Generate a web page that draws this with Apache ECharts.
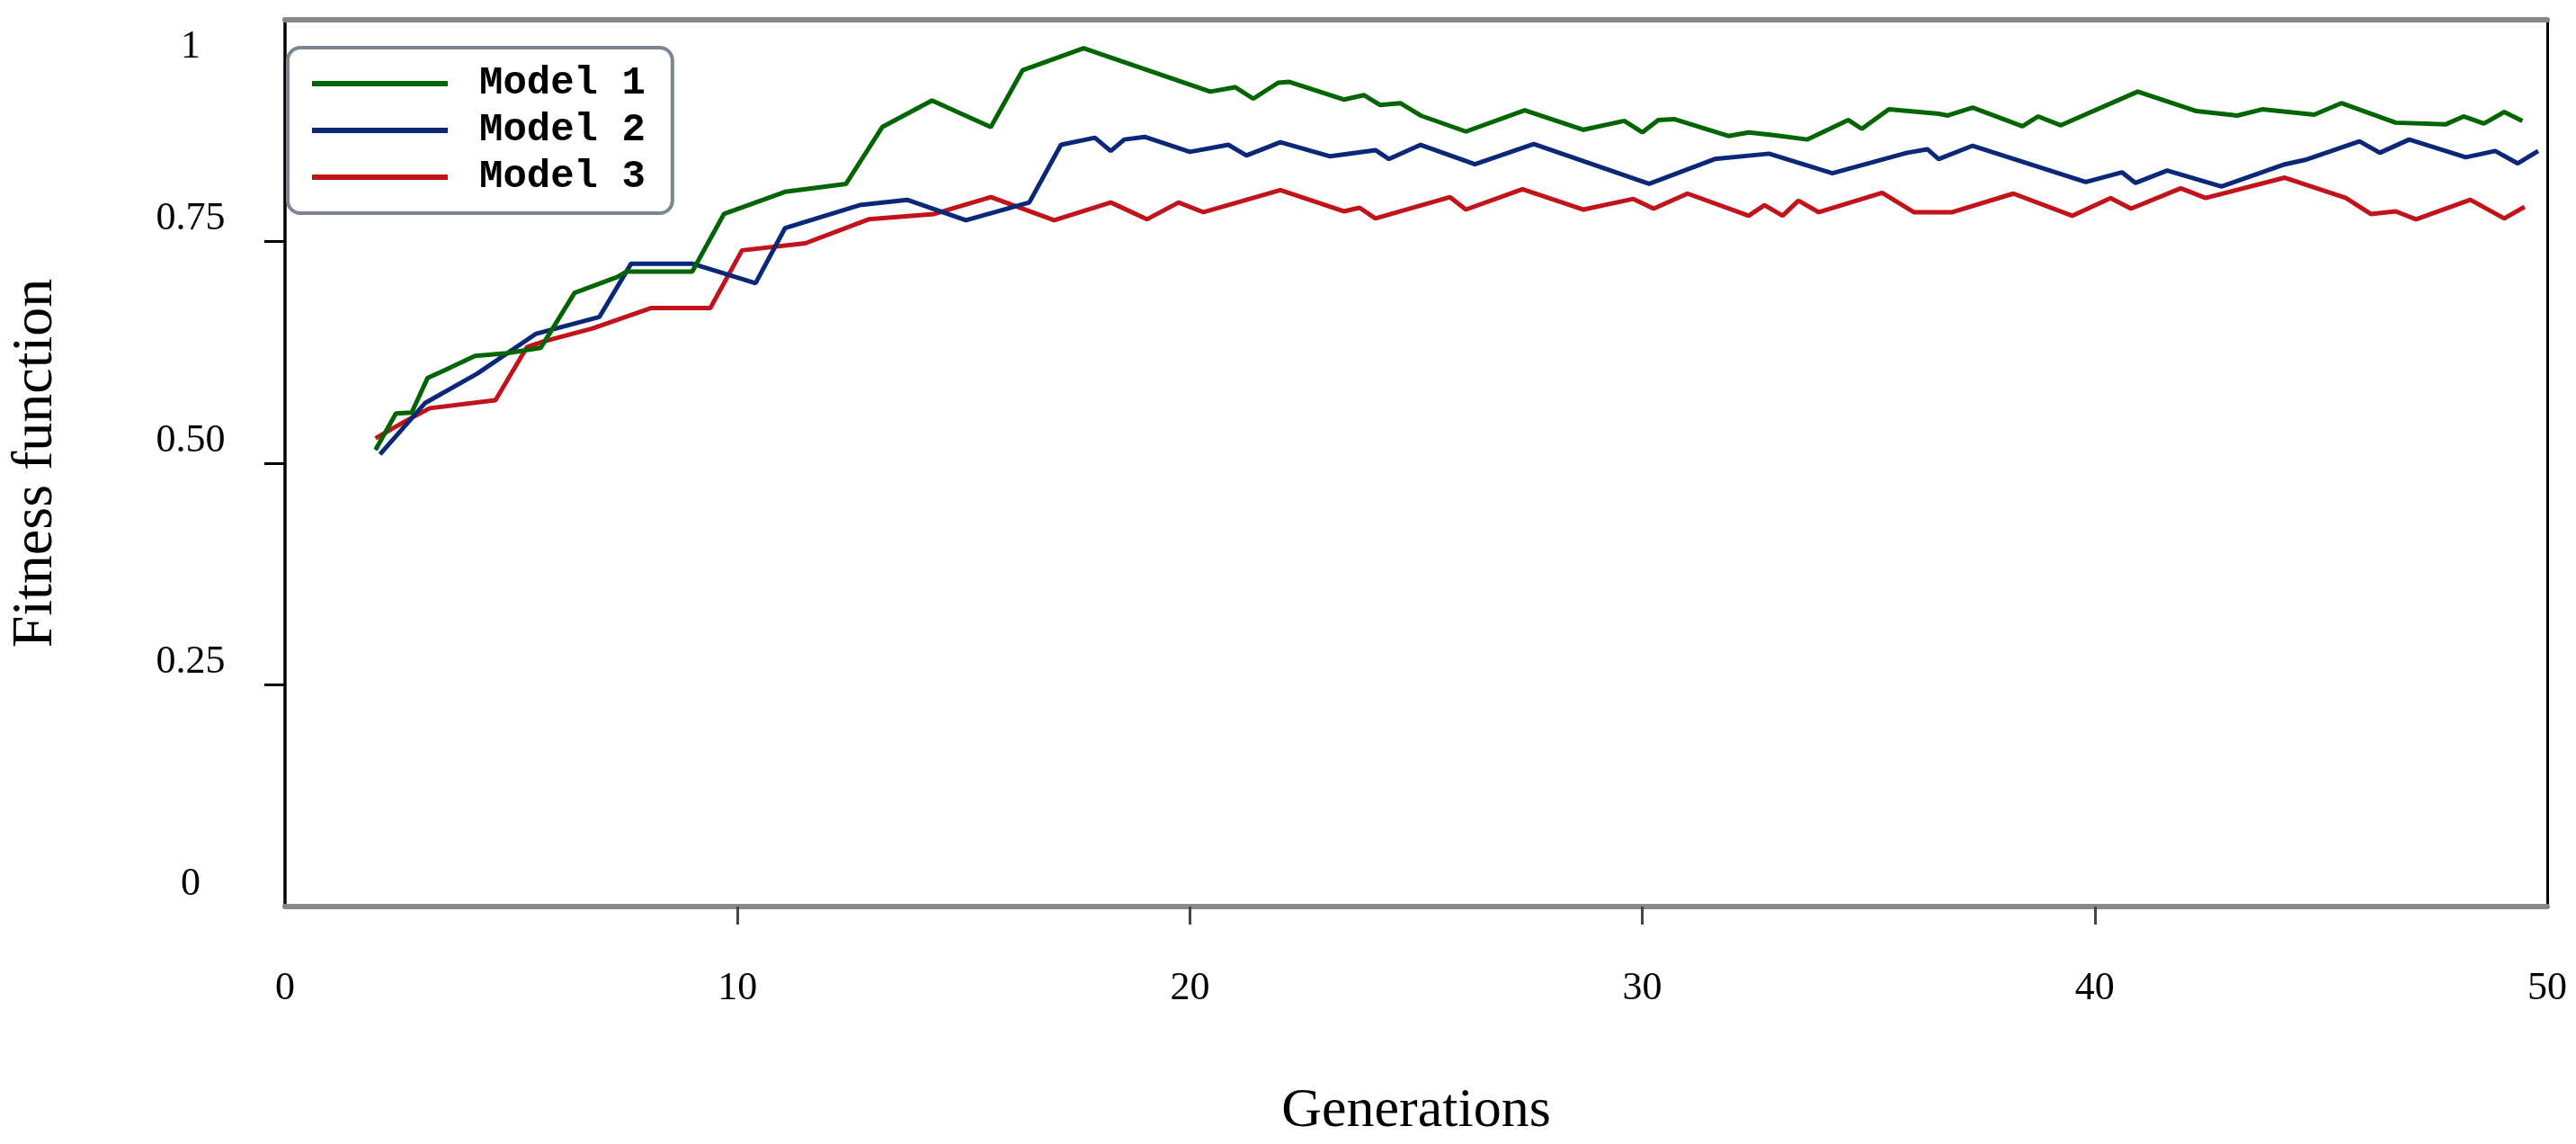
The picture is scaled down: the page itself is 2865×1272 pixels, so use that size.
<!DOCTYPE html>
<html>
<head>
<meta charset="utf-8">
<script src="https://cdn.jsdelivr.net/npm/echarts@6/dist/echarts.min.js"></script>
<style>
html,body{margin:0;padding:0;background:#fff;}
#chart{width:2865px;height:1272px;}
</style>
</head>
<body>
<div id="chart"></div>
<script>
// ---- data ----
const seriesNames = ['Model 1', 'Model 2', 'Model 3'];
const xTicks = [0, 10, 20, 30, 40, 50];
const yTicks = [0, 0.25, 0.5, 0.75, 1];

const m1X = [2.0, 2.45, 2.8, 3.15, 3.45, 4.2, 4.9, 5.65, 6.4, 7.35, 7.55, 9.0, 9.7, 11.05, 12.4, 13.2, 14.3, 15.6, 16.3, 17.65, 20.45, 21.0, 21.4, 21.95, 22.2, 23.4, 23.85, 24.2, 24.65, 25.1, 26.1, 27.4, 28.7, 29.6, 30.0, 30.35, 30.7, 31.9, 32.35, 32.9, 33.65, 34.55, 34.85, 35.45, 36.55, 36.75, 37.3, 38.4, 38.75, 39.25, 40.95, 42.25, 43.15, 43.7, 44.85, 45.45, 46.65, 47.75, 48.15, 48.6, 49.05, 49.45];
const m1Y = [0.515, 0.556, 0.557, 0.596, 0.603, 0.621, 0.624, 0.630, 0.692, 0.710, 0.716, 0.716, 0.781, 0.806, 0.815, 0.879, 0.909, 0.879, 0.943, 0.968, 0.919, 0.924, 0.911, 0.929, 0.930, 0.910, 0.915, 0.904, 0.906, 0.892, 0.874, 0.898, 0.876, 0.886, 0.873, 0.887, 0.888, 0.869, 0.873, 0.870, 0.865, 0.887, 0.877, 0.899, 0.894, 0.892, 0.901, 0.880, 0.891, 0.881, 0.919, 0.897, 0.892, 0.899, 0.893, 0.906, 0.884, 0.882, 0.891, 0.883, 0.896, 0.886];

const m2X = [2.1, 3.1, 4.25, 5.55, 6.95, 7.65, 9.0, 10.4, 11.05, 12.7, 13.75, 15.05, 16.45, 17.15, 17.9, 18.25, 18.55, 19.0, 20.0, 20.85, 21.25, 22.0, 23.1, 24.1, 24.4, 25.1, 26.3, 27.6, 30.15, 31.6, 32.8, 34.2, 35.85, 36.3, 36.55, 37.3, 39.8, 40.6, 40.9, 41.6, 42.8, 44.2, 44.65, 45.85, 46.3, 46.95, 48.2, 48.85, 49.35, 49.8];
const m2Y = [0.510, 0.568, 0.601, 0.646, 0.665, 0.725, 0.725, 0.703, 0.765, 0.791, 0.797, 0.774, 0.794, 0.859, 0.867, 0.852, 0.865, 0.868, 0.851, 0.859, 0.847, 0.862, 0.846, 0.853, 0.843, 0.859, 0.837, 0.860, 0.815, 0.843, 0.849, 0.827, 0.850, 0.854, 0.843, 0.858, 0.817, 0.828, 0.816, 0.830, 0.812, 0.837, 0.842, 0.863, 0.850, 0.865, 0.845, 0.852, 0.838, 0.852];

const m3X = [2.0, 2.65, 3.2, 4.65, 5.35, 5.7, 6.8, 8.1, 9.4, 10.1, 11.5, 12.9, 14.35, 15.6, 17.0, 18.25, 19.05, 19.75, 20.3, 22.0, 23.4, 23.75, 24.1, 25.75, 26.1, 27.35, 28.7, 29.8, 30.25, 31.0, 32.35, 32.7, 33.1, 33.45, 33.9, 35.3, 36.0, 36.85, 38.2, 39.5, 40.35, 40.8, 41.9, 42.45, 44.2, 45.55, 46.1, 46.65, 47.1, 48.3, 49.05, 49.5];
const m3Y = [0.528, 0.547, 0.562, 0.571, 0.631, 0.637, 0.652, 0.675, 0.675, 0.740, 0.748, 0.775, 0.781, 0.800, 0.774, 0.794, 0.775, 0.794, 0.783, 0.808, 0.784, 0.788, 0.776, 0.800, 0.786, 0.809, 0.786, 0.798, 0.787, 0.804, 0.779, 0.791, 0.779, 0.796, 0.783, 0.805, 0.783, 0.783, 0.804, 0.779, 0.799, 0.787, 0.810, 0.799, 0.822, 0.799, 0.781, 0.784, 0.775, 0.797, 0.776, 0.789];

const colors = ['#006400', '#0b2878', '#c2121a'];

function pairs(xs, ys) {
  const n = Math.min(xs.length, ys.length);
  const out = [];
  for (let i = 0; i < n; i++) out.push([xs[i], ys[i]]);
  return out;
}
const seriesData = [pairs(m1X, m1Y), pairs(m2X, m2Y), pairs(m3X, m3Y)];

const serif = "'Liberation Serif', 'DejaVu Serif', serif";
const chart = echarts.init(document.getElementById('chart'), null, {renderer: 'canvas'});

const option = {
  animation: false,
  backgroundColor: '#ffffff',
  grid: {left: 284, right: 32, top: 22, bottom: 229, containLabel: false},
  legend: {
    show: true,
    orient: 'vertical',
    left: 320,
    top: 53,
    padding: [15, 30, 15, 27],
    backgroundColor: '#ffffff',
    borderColor: '#7d8591',
    borderWidth: 4,
    borderRadius: 14,
    itemWidth: 151,
    itemHeight: 6,
    itemGap: 2,
    icon: 'rect',
    data: seriesNames,
    textStyle: {
      fontFamily: "'Liberation Mono', 'DejaVu Sans Mono', monospace",
      fontSize: 44,
      fontWeight: 'bold',
      color: '#000',
      lineHeight: 50,
      padding: [0, 0, 0, 30]
    }
  },
  xAxis: [{
    type: 'value',
    min: 0, max: 50, interval: 10,
    name: 'Generations',
    nameLocation: 'middle',
    nameGap: 197,
    nameTextStyle: {fontFamily: serif, fontSize: 62, color: '#000'},
    axisLine: {show: true, onZero: false, lineStyle: {color: '#888888', width: 6}},
    axisTick: {show: true, length: 20, customValues: [10, 20, 30, 40], lineStyle: {color: '#444', width: 3}},
    axisLabel: {show: true, margin: 69, fontFamily: serif, fontSize: 44, color: '#000', customValues: xTicks},
    splitLine: {show: false}
  }, {
    type: 'value', position: 'top', min: 0, max: 50,
    axisLine: {show: true, onZero: false, lineStyle: {color: '#888888', width: 6}},
    axisTick: {show: false}, axisLabel: {show: false}, splitLine: {show: false}
  }],
  yAxis: [{
    type: 'value',
    min: 0, max: 1, interval: 0.25,
    name: 'Fitness function',
    nameLocation: 'middle',
    nameRotate: 90,
    nameGap: 245,
    nameTextStyle: {fontFamily: serif, fontSize: 64, color: '#000'},
    axisLine: {show: true, onZero: false, lineStyle: {color: '#000', width: 3.5}},
    axisTick: {show: true, length: 23, customValues: [0.25, 0.5, 0.75], lineStyle: {color: '#000', width: 3}},
    axisLabel: {
      show: true, margin: 105, align: 'center',
      customValues: yTicks,
      formatter: function (v) {
        const t = v === 0 ? '0' : (v === 1 ? '1' : v.toFixed(2));
        return v === 1 ? '{dn|' + t + '}' : '{up|' + t + '}';
      },
      rich: {
        up: {fontFamily: serif, fontSize: 44, color: '#000', padding: [0, 0, 50, 0]},
        dn: {fontFamily: serif, fontSize: 44, color: '#000', padding: [60, 0, 0, 0]}
      }
    },
    splitLine: {show: false}
  }, {
    type: 'value', position: 'right', min: 0, max: 1,
    axisLine: {show: true, onZero: false, lineStyle: {color: '#000', width: 3}},
    axisTick: {show: false}, axisLabel: {show: false}, splitLine: {show: false}
  }],
  series: seriesNames.map((name, i) => ({
    name: name,
    type: 'line',
    xAxisIndex: 0,
    yAxisIndex: 0,
    data: seriesData[i],
    showSymbol: false,
    symbol: 'none',
    color: colors[i],
    lineStyle: {color: colors[i], width: 5},
    z: 3 - i
  }))
};
chart.setOption(option);
</script>
</body>
</html>
